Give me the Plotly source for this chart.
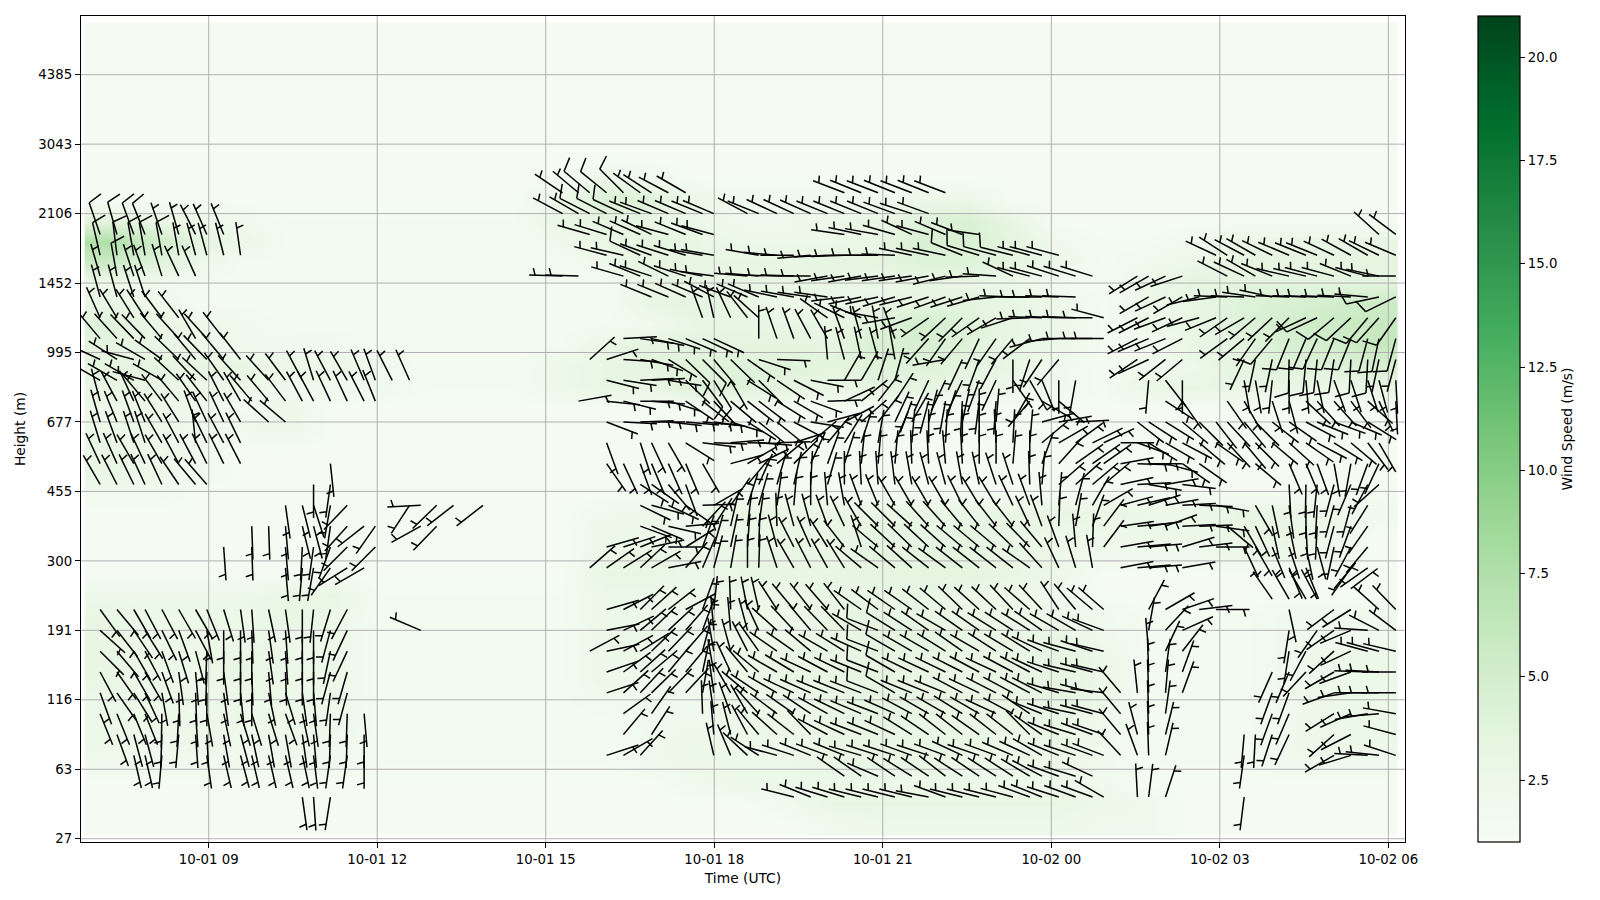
import math
import pandas as pd
import plotly.graph_objects as go

# ---------------- axis labels / ticks ----------------
HEIGHT_LABELS = ["27", "63", "116", "191", "300", "455", "677", "995", "1452", "2106", "3043", "4385"]
HEIGHT_LEVELS = [0, 10, 20, 30, 40, 50, 60, 70, 80, 90, 100, 110]
TIME_TICKS_MIN = [540, 720, 900, 1080, 1260, 1440, 1620, 1800]
CBAR_TICKS = [2.5, 5, 7.5, 10, 12.5, 15, 17.5, 20]

# observation times of the barb columns, minutes after 10-01 00:00
COL_MIN = [424, 442, 460, 472, 490, 508, 526, 538, 556, 574, 586, 604, 622, 640, 652, 670, 688, 706, 718, 736,
           754.5, 766.5, 783.5, 801.5, 833, 918, 935, 947, 965, 983, 1001, 1013, 1031, 1049.5, 1067.5, 1079.5, 1097.5,
           1115.5, 1127.5,
           1147, 1165, 1183, 1201, 1219, 1237, 1255, 1273, 1291, 1309, 1327, 1345, 1363, 1381, 1399, 1417, 1430,
           1448, 1466, 1484, 1496, 1514, 1532, 1544, 1562, 1580, 1598, 1616, 1628, 1646, 1658, 1676, 1694, 1712,
           1724, 1742, 1760, 1778, 1790, 1808]

# wind direction (deg) per barb row: row -> [(first column, directions)]; height level = 3 * row
WIND_DIR = {
    2: [(13, [172, 176, 189]), (40, [284, 292, 287, 287, 284, 284, 284, 284, 281, 290, 284, 284, 284, 285, 290, 292, 288, 290, 290, 300]), (61, [357, 7, 18]), (68, [187])],
    3: [(43, [305, 305, 293, 304, 302, 304, 308, 303, 304, 303, 303, 301, 298, 290, 287, 295])],
    4: [(2, [167, 167, 185]), (7, [172, 167, 165, 167, 167, 167, 168, 173, 188, 188, 180]), (28, [72, 60, 42]),
        (35, [347, 337, 313, 303, 285, 288, 292, 290, 292, 286, 288, 288, 290, 288, 290, 295, 289, 290, 293, 295, 300, 292, 288, 290, 291, 317, 340, 358, 13]), (68, [188]), (74, [240, 253, 273, 276, 288])],
    5: [(1, [160, 165, 165, 182, 185, 176, 177, 170, 165, 168, 170, 170, 172, 175, 182, 182, 180]), (29, [40]), (31, [33]),
        (35, [355, 346, 332, 320, 312, 308, 316, 298, 295, 291, 292, 295, 302, 304, 308, 308, 305, 308, 308, 315, 305, 292, 287, 290, 289, 320, 345, 358, 14]), (68, [185, 183, 198, 205]), (74, [228, 243]), (78, [285])],
    6: [(0, [158, 158, 158, 158, 181, 183, 176, 170, 168, 163, 163, 163, 160, 168, 172, 182, 182, 175]), (29, [54]), (31, [35]),
        (34, [358, 352, 340, 330, 318, 307, 305, 304, 299, 296, 293, 291, 294, 298, 300, 300, 302, 300, 295, 298, 304, 292, 288, 282, 285, 285, 320]), (62, [358, 8]), (70, [200, 203]), (74, [238, 246, 260, 265, 280])],
    7: [(0, [160, 145, 148, 155, 170, 178, 178, 180, 172, 174, 180, 168, 163, 172, 175, 188, 195]),
        (28, [72, 48, 43, 46, 44, 43, 10, 352, 330, 310, 304, 300, 295, 294, 292, 292, 291, 291, 300, 292, 292, 292, 298, 295, 297, 298, 298, 297, 287, 280, 285, 277, 320, 354, 358, 5, 20]), (70, [200, 200]), (74, [250, 262, 270, 270, 270])],
    8: [(0, [152, 145, 150, 150, 160, 172, 175, 182, 172, 180, 178, 175, 178, 180, 180, 195, 196]),
        (28, [71, 54, 48, 50, 40, 40, 12, 350, 335, 320, 310, 300, 301, 295, 298, 296, 292, 291, 300, 296, 295, 296, 297, 298, 295, 298, 298, 295, 288, 283, 285, 283]), (62, [358, 8, 20]), (70, [204, 203, 223]), (74, [240, 250, 272, 273, 270])],
    9: [(0, [135, 140, 150, 152, 160, 163, 165, 182, 180, 180, 180, 172, 176, 180, 180, 192, 205]),
        (27, [62, 78, 62, 58, 46, 44, 41, 15, 350, 345, 333, 325, 305, 305, 310, 300, 302, 294, 291, 300, 300, 300, 302, 305, 300, 303, 301, 302, 296, 290, 285, 288, 283]), (62, [355, 25, 38]), (71, [189, 208]), (74, [228, 245, 285, 285, 283])],
    10: [(0, [132, 142, 146, 148, 154, 160, 152, 170, 180, 180, 178, 172, 176, 180, 180, 195, 205]), (21, [293]),
         (28, [79, 65, 50, 46, 47, 41, 20, 355, 355, 345, 335, 312, 317, 320, 316, 316, 300, 291, 302, 303, 305, 300, 305, 305, 302, 303, 302, 305, 300, 300, 295, 290]), (62, [10, 43, 66]), (71, [189]), (73, [215, 235, 247, 274, 297, 307])],
    11: [(0, [144, 140, 150, 152, 152, 150, 150, 158, 163, 172, 176, 168, 172, 180, 186, 197, 208]),
         (28, [74, 63, 45, 48, 52, 62, 20, 6, 358, 349, 347, 327, 320, 322, 319, 322, 305, 307, 305, 305, 308, 310, 314, 312, 313, 317, 311, 317, 327, 320, 310, 311]), (62, [28, 60, 71, 83, 90]), (71, [168]), (74, [233, 238]), (77, [312, 316])],
    11.5: [(70, [325, 330, 330, 332])],
    12: [(74, [40, 53])],
    13: [(12, [175, 185, 190, 215, 238, 240]),
         (27, [49, 55, 58, 47, 60, 79, 40, 23, 15, 10, 0, 2, 342, 330, 333, 331, 328, 310, 305, 310, 312, 308, 306, 308, 308, 308, 308, 305, 318, 335, 343, 350]), (60, [79, 85, 85]), (64, [80]), (71, [157, 158]), (75, [215, 235])],
    14: [(8, [176]), (10, [178]), (12, [175, 183, 188, 200, 225]), (18, [225]),
         (28, [74, 72, 68, 78, 90, 58, 20, 16, 12, 4, 2, 345, 333, 336, 328, 322, 342, 310, 313, 314, 313, 312, 310, 310, 310, 314, 316, 320, 340, 355, 2, 37]), (60, [80, 85, 85]), (64, [73, 83, 90]), (68, [155, 150, 158, 162, 168, 165, 192, 208, 220])],
    15: [(10, [178, 178, 175, 166, 165, 188, 222, 232, 215]), (21, [241, 224]),
         (30, [110, 113, 103, 85, 43, 33, 13, 7, 8, 358, 345, 345, 340, 335, 330, 315, 315, 312, 318, 318, 320, 322, 322, 322, 335, 340, 2, 10, 20, 37]), (60, [82, 85, 82, 70, 87, 88, 98, 130]), (68, [150, 155, 168, 168, 177, 183, 195, 200, 215])],
    16: [(12, [172, 166, 162, 190, 224]), (20, [213, 267, 226, 232, 232]),
         (30, [116, 105, 115, 125, 88, 60, 35, 18, 16, 8, 5, 0, 355, 350, 340, 338, 330, 330, 330, 330, 334, 329, 329, 335, 340, 355, 5, 15, 30, 60]), (60, [75, 77, 72, 80, 87, 92, 100]), (69, [150, 168, 172, 180, 183, 195, 195, 212])],
    17: [(0, [330, 333, 334, 335, 335, 326, 320, 319]), (14, [180, 188]), (30, [123, 125, 140, 160]),
         (37, [40, 24, 16, 13, 3, 16, 0, 357, 356, 353, 350, 345, 345, 350, 348, 342, 342, 358, 5, 49, 48, 50, 50, 78, 87, 100, 80, 97]), (71, [177, 181, 186, 195, 203, 208, 228])],
    18: [(0, [335, 336, 330, 335, 330, 332, 332, 334, 334, 333]), (15, [174]), (28, [145, 155, 160, 157, 156, 157, 150]),
         (36, [75, 60, 64, 50, 45, 25, 20, 18, 6, 5, 5, 358, 357, 355, 357, 0, 0, 5, 0, 20, 42, 55, 55, 55, 80, 92, 90, 105, 125, 125]), (69, [130]), (71, [157, 157, 160, 170, 190, 200, 205])],
    19: [(0, [343, 340, 342, 342, 330, 332, 354, 334, 332, 334]), (28, [160]),
         (30, [162, 155, 150, 122, 97, 92, 85, 91, 94, 88, 72, 50, 40, 32, 18, 10, 23, 5, 0, 3, 0, 0, 357, 3, 5, 50, 60, 54, 64, 65, 90, 110, 122, 120, 118, 130, 125, 137, 140, 135, 130, 132, 125, 118, 122, 130, 143, 150])],
    20: [(0, [344, 338, 340, 338, 328, 328, 340, 335, 335, 330]), (11, [312, 310]),
         (28, [111, 93, 88, 90, 96, 95, 95, 98, 107, 122, 129, 129, 118, 99, 75, 62, 49, 38, 25, 30, 15, 18, 12, 0, 5, 30]), (55, [75, 80, 87]), (61, [128, 123, 122, 130, 135, 142, 137, 140, 135, 128, 125, 118, 112, 110, 113, 122])],
    21: [(0, [345, 332, 335, 320, 323, 320, 325, 322, 333, 330, 320, 320, 323, 332, 332, 335, 335, 333, 338]), (26, [80]),
         (28, [96, 104, 90, 95, 107, 124, 128, 137, 130, 128, 127, 122, 120, 110, 88, 65, 51, 38, 33, 200, 195, 190, 183, 187, 184]), (54, [220, 120, 130]), (63, [123, 145]), (67, [145, 150]), (70, [162, 165, 133, 138, 138, 143, 132, 155, 177])],
    22: [(0, [300, 300, 300, 285, 300, 313, 317, 313, 325, 318]), (11, [318, 323, 332, 343, 332, 330, 337, 340, 333, 336]),
         (28, [104, 99, 87, 87, 99, 134, 143, 148, 150, 122, 135, 124, 117, 101, 90, 30, 30, 18, 15]), (48, [205, 205, 205, 200, 205, 145, 150, 158, 180, 190]), (62, [185, 142, 180]), (68, [170, 170, 186, 180, 175, 168, 160, 162, 162, 165, 177])],
    23: [(0, [295, 303, 285, 300, 306, 314, 320, 316, 320, 322]), (27, [48, 72, 94, 100, 110, 122, 134, 135, 140, 134, 125, 108, 92]),
         (42, [355, 345, 348, 345, 350]), (49, [260, 205, 200, 208, 180, 198, 214, 220]), (61, [236, 245, 232, 230]), (68, [205, 192, 192, 181, 185, 186, 189, 183, 183, 192, 195])],
    24: [(0, [320, 318, 316, 316, 320, 318, 330, 318, 322]), (29, [87, 98, 102, 108, 113, 115, 115]), (38, [0, 341, 340, 332, 330, 340, 345, 350, 340]),
         (48, [222, 215, 220, 205, 215, 220, 233, 255, 265, 270, 270, 270]), (61, [243, 247, 248, 243]), (67, [234, 230, 215, 220, 202, 203, 205, 202, 202, 195, 192, 195])],
    25: [(0, [336, 329, 328, 327, 323, 322]), (34, [340, 347, 335, 322, 312]), (42, [305, 296, 292, 280, 260, 250, 235, 227, 225, 235, 240, 252, 268, 272, 272, 272, 270, 285]),
         (61, [243, 243, 250, 245, 255, 248, 235, 240, 230, 227, 225, 245, 245, 230, 227, 220, 222, 215])],
    26: [(0, [345, 345, 342, 342]), (31, [292, 292, 294, 293, 298, 290, 293, 293, 282, 280, 278, 278, 263, 258, 258, 254, 256, 252, 250, 252, 254, 264, 272, 270, 270, 272, 272]),
         (62, [240, 245, 240, 256, 262, 272, 272, 278, 282, 272, 272, 272, 272, 273, 275, 258, 244])],
    27: [(0, [344, 350, 342, 340, 343, 335, 336]), (25, [272, 272]), (29, [286, 292, 288, 296, 288, 282, 278]),
         (37, [275, 275, 272, 272, 270, 260, 262, 260, 263, 262, 262, 260, 256, 262, 268, 274, 295, 285, 285, 288, 287, 287]), (61, [238, 240, 245, 252]), (67, [297, 295, 300, 292, 283, 283, 285, 285, 292, 285, 282, 270])],
    28: [(0, [347, 353, 350, 350, 350, 350, 345, 345, 346, 352]), (28, [285, 283, 295, 290, 288, 287, 280, 280]),
         (38, [280, 275, 270, 265, 267, 268, 270, 270, 272, 282, 282, 282, 292, 287, 285, 284, 285, 285, 285]), (66, [295, 303, 298, 300, 296, 293, 292, 292, 295, 299, 300, 296, 293])],
    29: [(0, [341, 344, 340, 338, 341, 344, 333, 336, 338]), (27, [286, 287, 293, 294, 296, 285, 292, 290, 285]), (43, [278, 282, 280, 286, 295, 285, 293, 291, 278]), (77, [312, 307])],
    30: [(25, [298, 300, 297, 297, 295, 292, 290, 293, 293, 292, 293]), (37, [298, 292, 295, 295, 294, 292, 292, 292, 292, 290, 288, 290])],
    31: [(25, [304, 310, 310, 309, 315, 306, 303, 298, 300]), (43, [291, 292, 291, 292, 291, 292, 291])],
}

# barbs that carry a full feather (all others carry a half feather): row -> columns
FULL_FEATHER = {
    7: [45, 46], 8: [45, 46], 9: [45, 46], 10: [45, 46],
    22: [34, 35], 23: [33, 34, 71, 72, 73, 74, 75, 76],
    24: [70, 71, 72, 73, 74, 75, 76, 77, 78], 25: [73, 74, 75, 76, 77, 78], 26: [77, 78],
    27: [1], 28: [0, 1, 2, 3, 4, 30, 50, 51, 52, 53], 29: [0, 1, 2, 3], 30: [27, 28, 29], 31: [27, 28, 29],
}

# wind speed (m/s) shading: grid times (minutes) and rows; row -> (first column, values), elsewhere calm
HEAT_MIN = [432, 481, 529, 577, 626, 674, 722, 771, 819, 867, 916, 964, 1013, 1061, 1109, 1158, 1206, 1254, 1303,
            1351, 1400, 1448, 1496, 1545, 1593, 1641, 1690, 1738, 1786]
HEAT_LEVEL = [2, 5, 8, 11, 14, 17, 20, 23, 26, 29, 32, 35, 38, 41, 44, 47, 50, 53, 56, 59, 62, 65, 68, 71, 74, 77,
              80, 83, 86, 89, 92, 95, 98, 101, 104, 107, 110, 113, 116]
CALM = 1.3
HEAT = {
    0: (16, [2, 2.5, 2.5, 2.5, 2.5, 2.5, 2, 2]),
    1: (15, [2, 3, 3, 3, 3, 3, 3, 2.5, 2]),
    2: (13, [2, 2.5, 2.5, 2.5, 2.5, 2.5, 2.5, 2.5, 2.5, 2]),
    3: (0, [2, 2, 2, 2, 2, 2, 1.5, 1.5, 1.5, 1.5, 1.5, 1.5, 2, 2.5, 2.5, 2.5, 3, 3, 3, 2.5, 2.5, 2.5, 2, 1.5, 1.5, 1.5, 2, 2, 2]),
    4: (0, [2.5, 2, 2.5, 2, 2.5, 2, 1.5, 1.5, 1.5, 1.5, 1.5, 1.5, 2, 2.5, 2.5, 2.5, 3, 3, 3, 3, 2.5, 3, 2, 1.5, 1.5, 1.5, 2, 2.5, 2.5]),
    5: (0, [2.5, 2.5, 2.5, 2.5, 2.5, 2.5, 1.5, 1.5, 1.5, 1.5, 1.5, 1.5, 2, 2, 2.5, 2.5, 3, 3.5, 3, 3, 3, 3, 2, 1.5, 1.5, 1.5, 2, 2.5, 2.5]),
    6: (0, [2.5, 2.5, 2.5, 2.5, 2.5, 2.5, 1.5, 1.5, 1.5, 1.5, 1.5, 2, 2, 2, 2.5, 2.5, 3, 3.5, 3, 3, 3, 3.5, 2.5, 1.5, 1.5, 1.5, 2, 2.5, 2.5]),
    7: (0, [3, 2.5, 2.5, 3, 2.5, 2.5, 1.5, 1.5, 1.5, 1.5, 1.5, 2.5, 2, 2, 2.5, 3, 3, 3.5, 3, 3, 3, 3.5, 2.5, 1.5, 1.5, 1.5, 2, 2.5, 2.5]),
    8: (0, [3, 2.5, 2.5, 3, 2.5, 2.5, 1.5, 1.5, 1.5, 1.5, 1.5, 2.5, 2.5, 2, 2.5, 3, 3, 3.5, 3, 3, 3, 3.5, 2.5, 1.5, 1.5, 1.5, 2, 2.5, 2.5]),
    9: (0, [3, 2.5, 2.5, 2.5, 2.5, 2.5, 1.5, 1.5, 1.5, 1.5, 1.5, 2.5, 2.5, 2, 2.5, 2.5, 3, 3.5, 3.5, 3, 3, 3, 2, 1.5, 1.5, 1.5, 2, 2, 2]),
    10: (0, [3, 2.5, 2.5, 2.5, 3, 2.5, 1.5, 1.5, 1.5, 1.5, 1.5, 2.5, 2.5, 2, 2.5, 2.5, 3, 3.5, 3, 3, 2.5, 2.5, 2, 1.5, 1.5, 1.5, 2, 2, 2]),
    11: (0, [2.5, 2.5, 2.5, 2.5, 3, 3, 1.5, 1.5, 1.5, 1.5, 1.5, 2.5, 2.5, 2.5, 2.5, 2.5, 3, 3, 3, 2.5, 2.5, 2]),
    12: (11, [3, 3, 2.5, 3, 3, 3, 3.5, 3.5, 3.5, 3, 2.5]),
    13: (11, [2.5, 3, 2.5, 3, 3, 3, 3.5, 3.5, 3.5, 3, 2.5, 2, 2, 2, 2.5, 2.5, 2]),
    14: (11, [2.5, 2.5, 2, 2.5, 3, 3, 3.5, 3, 3.5, 3, 2.5, 2.5, 2.5, 2.5, 3, 3, 2.5]),
    15: (11, [2, 2.5, 2, 3, 3, 3, 3, 3, 3, 3, 3, 3, 2.5, 2.5, 3, 3, 2.5, 2]),
    16: (0, [2, 2]),
    17: (0, [3, 2.5, 2]),
    18: (0, [3, 2.5, 2]),
    19: (0, [2.5, 2.5, 2, 2, 2.5]),
    20: (0, [2.5, 2.5, 2, 1.5, 2.5]),
    21: (0, [3, 3, 2.5, 2.5, 2, 2, 2, 1.5, 1.5, 1.5, 2.5, 3, 3, 4, 4, 3.5, 3, 3.5, 3.5, 3, 2.5, 2, 1.5, 3, 3, 3, 3, 2.5, 3]),
    22: (0, [3.5, 3.5, 3, 3, 2.5, 2.5, 2, 1.5, 1.5, 1.5, 2.5, 3, 3.5, 4, 4, 4, 3.5, 4, 4, 3.5, 3, 2, 1.5, 2, 2.5, 3.5, 4, 4, 4.5]),
    23: (0, [3.5, 3, 2.5, 2, 2, 2, 1.5, 1.5, 1.5, 1.5, 1.5, 3, 3.5, 3.5, 3.5, 3.5, 3.5, 4.5, 4.5, 4, 3, 2.5, 1.5, 1.5, 3, 3.5, 4.5, 5, 6]),
    24: (0, [4, 3, 2.5, 2, 1.5, 1.5, 1.5, 1.5, 1.5, 1.5, 1.5, 1.5, 2, 3, 3, 3, 3, 4, 5, 4, 3, 2.5, 1.5, 2.5, 3, 4, 5, 5.5, 6]),
    25: (0, [3, 2.5, 1.5, 1.5, 1.5, 1.5, 1.5, 1.5, 1.5, 1.5, 1.5, 1.5, 3, 3.5, 3, 2.5, 2.5, 3, 3.5, 3.5, 3, 2.5, 1.5, 2.5, 3, 4, 4.5, 5, 5.5]),
    26: (0, [2.5, 2, 1.5, 1.5, 1.5, 1.5, 1.5, 1.5, 1.5, 1.5, 1.5, 1.5, 3, 3, 3, 3, 3, 2.5, 3, 3, 2.5, 1.5, 1.5, 2.5, 3.5, 3.5, 3.5, 3.5, 3.5]),
    27: (0, [5.5, 4, 2.5, 1.5, 1.5, 1.5, 1.5, 1.5, 1.5, 1.5, 1.5, 2.5, 3.5, 3, 3, 3, 3.5, 3.5, 4, 4, 3.5, 2.5, 1.5, 2, 2.5, 3.5, 3.5, 3.5, 3.5]),
    28: (0, [7.5, 5.5, 3.5, 2.5, 1.5, 1.5, 1.5, 1.5, 1.5, 1.5, 2, 3, 3.5, 3, 2.5, 2.5, 2.5, 3, 4.5, 4.5, 3.5, 2, 1.5, 1.5, 2, 3, 3, 3, 3]),
    29: (0, [3.5, 3, 2.5, 2, 1.5, 1.5, 1.5, 1.5, 1.5, 1.5, 3, 3.5, 3, 2.5, 2, 2, 2.5, 3, 4, 4.5, 3]),
    30: (10, [2.5, 4.5, 4, 2.5, 2, 2, 2, 2, 2.5, 2.5]),
    31: (11, [2.5, 2]),
}

GREENS = [[0, "#f7fcf5"], [0.125, "#e5f5e0"], [0.25, "#c7e9c0"], [0.375, "#a1d99b"], [0.5, "#74c476"],
          [0.625, "#41ab5d"], [0.75, "#238b45"], [0.875, "#006d2c"], [1, "#00441b"]]

# figure geometry (pixels), used only to convert the screen-sized barbs to axis units
AX_L, AX_R, AX_T, AX_B = 80.6, 1405.0, 15.8, 842.0
X_MIN_LOW, X_MIN_HIGH = 403.6, 1817.8
Y_LOW, Y_HIGH = -0.475, 118.45
PX_PER_MIN = (AX_R - AX_L) / (X_MIN_HIGH - X_MIN_LOW)
PX_PER_LEVEL = (AX_B - AX_T) / (Y_HIGH - Y_LOW)
STAFF, HALF_OFF, HALF_H, HALF_S, FULL_H, FULL_S = 33.5, 6.0, 7.0, 2.0, 14.0, 4.5


def stamp(minutes):
    return (pd.Timestamp("2023-10-01") + pd.to_timedelta(minutes, unit="m")).strftime("%Y-%m-%d %H:%M:%S")


bx, by = [], []
for row, segments in WIND_DIR.items():
    level = 3 * row
    full_cols = FULL_FEATHER.get(row, [])
    for first, dirs in segments:
        for k, d in enumerate(dirs):
            col = first + k
            t = COL_MIN[col]
            th = math.radians(d)
            ux, uy = math.sin(th), -math.cos(th)      # tip -> feather end, screen pixels
            lx, ly = -uy, ux                          # feather side of the staff
            if col in full_cols:
                a = STAFF
                fx, fy = ux * a + lx * FULL_H + ux * FULL_S, uy * a + ly * FULL_H + uy * FULL_S
            else:
                a = STAFF - HALF_OFF
                fx, fy = ux * a + lx * HALF_H + ux * HALF_S, uy * a + ly * HALF_H + uy * HALF_S
            pts = [(0, 0), (ux * STAFF, uy * STAFF), None, (ux * a, uy * a), (fx, fy), None]
            for p in pts:
                if p is None:
                    bx.append(None)
                    by.append(None)
                else:
                    bx.append(stamp(t + p[0] / PX_PER_MIN))
                    by.append(level - p[1] / PX_PER_LEVEL)

z = []
for r in range(len(HEAT_LEVEL)):
    line = [CALM] * len(HEAT_MIN)
    if r in HEAT:
        first, vals = HEAT[r]
        line[first:first + len(vals)] = vals
    z.append(line)

gx, gy = [], []
for t in TIME_TICKS_MIN:
    gx += [stamp(t), stamp(t), None]
    gy += [Y_LOW, Y_HIGH, None]
for lv in HEIGHT_LEVELS:
    gx += [stamp(X_MIN_LOW), stamp(X_MIN_HIGH), None]
    gy += [lv, lv, None]

FONT = dict(family="DejaVu Sans", size=13.3, color="black")
TITLE_FONT = dict(family="DejaVu Sans", size=13.8, color="black")

fig = go.Figure()
fig.add_trace(go.Heatmap(
    x=[stamp(t) for t in HEAT_MIN], y=HEAT_LEVEL, z=z, zmin=1, zmax=21, colorscale=GREENS, zsmooth="best",
    hoverinfo="skip",
    colorbar=dict(x=(1478.3 - AX_L) / (AX_R - AX_L), xanchor="left", xpad=0, ypad=0, y=0.5, yanchor="middle",
                  len=1, lenmode="fraction", thickness=42, thicknessmode="pixels", tickvals=CBAR_TICKS,
                  ticktext=["2.5", "5.0", "7.5", "10.0", "12.5", "15.0", "17.5", "20.0"], ticks="outside",
                  ticklen=5, tickwidth=1.1, tickcolor="black", outlinewidth=1.2, outlinecolor="black",
                  tickfont=FONT, title=dict(text="Wind Speed (m/s)", side="right", font=TITLE_FONT)),
))
fig.add_trace(go.Scatter(x=gx, y=gy, mode="lines", line=dict(color="#b0b0b0", width=1), hoverinfo="skip", showlegend=False))
fig.add_trace(go.Scatter(x=bx, y=by, mode="lines", line=dict(color="black", width=1.5), hoverinfo="skip", showlegend=False, connectgaps=False))

fig.update_layout(
    width=1600, height=900, autosize=False, paper_bgcolor="white", plot_bgcolor="white",
    margin=dict(l=AX_L, r=1600 - AX_R, t=AX_T, b=900 - AX_B, pad=0), font=FONT, showlegend=False,
    xaxis=dict(type="date", range=[stamp(X_MIN_LOW), stamp(X_MIN_HIGH)], tickvals=[stamp(t) for t in TIME_TICKS_MIN],
               tickformat="%m-%d %H", showgrid=False, zeroline=False, ticks="outside", ticklen=5, tickwidth=1.1,
               tickcolor="black", showline=True, linecolor="black", linewidth=1.3, mirror=True, tickfont=FONT,
               title=dict(text="Time (UTC)", font=TITLE_FONT, standoff=7)),
    yaxis=dict(range=[Y_LOW, Y_HIGH], tickvals=HEIGHT_LEVELS, ticktext=HEIGHT_LABELS, showgrid=False, zeroline=False,
               ticks="outside", ticklen=5, tickwidth=1.1, tickcolor="black", showline=True, linecolor="black",
               linewidth=1.3, mirror=True, tickfont=FONT, title=dict(text="Height (m)", font=TITLE_FONT, standoff=9)),
)
fig.write_html("out.html", config={"displayModeBar": False}, post_script="document.body.style.margin='0';")
